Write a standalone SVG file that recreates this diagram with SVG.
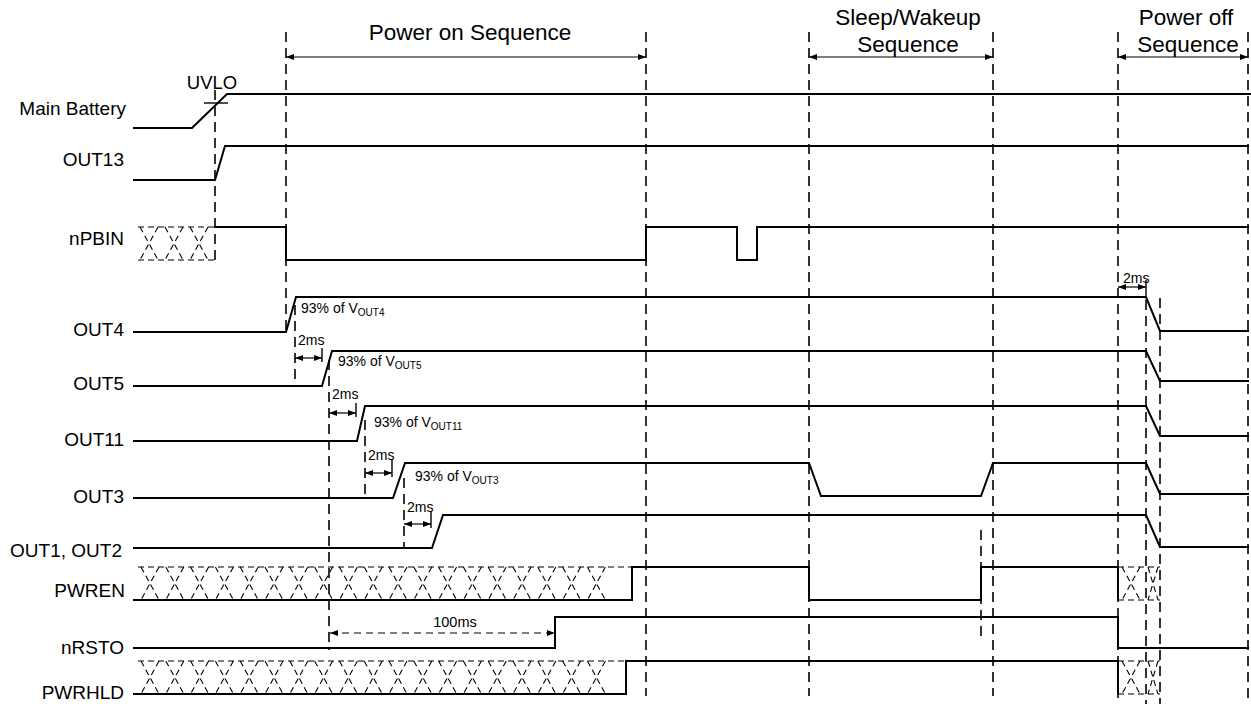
<svg xmlns="http://www.w3.org/2000/svg" width="1251" height="704" viewBox="0 0 1251 704">
<style>
text{font-family:"Liberation Sans",Arial,Helvetica,sans-serif;fill:#000}
.lbl{font-size:19px;text-anchor:end}
.hdr{font-size:22.5px;text-anchor:middle}
.sm{font-size:14px}
.sub{font-size:10px}
.sig{fill:none;stroke:#000;stroke-width:2}
.guide{fill:none;stroke:#000;stroke-width:1.6;stroke-dasharray:10 6}
.tick{fill:none;stroke:#000;stroke-width:1.4}
.dim{fill:none;stroke:#000;stroke-width:1.2;marker-start:url(#ah);marker-end:url(#ah)}
.dimd{fill:none;stroke:#000;stroke-width:1.2;stroke-dasharray:7 5;marker-start:url(#ah);marker-end:url(#ah)}
.hatch{fill:none;stroke:#000;stroke-width:1.1;stroke-dasharray:6 4}
</style>
<defs>
<marker id="ah" viewBox="0 0 8 6" refX="8" refY="3" markerWidth="8" markerHeight="6" markerUnits="userSpaceOnUse" orient="auto-start-reverse">
<path d="M0,0 L8,3 L0,6 z" fill="#000"/>
</marker>
</defs>
<rect width="1251" height="704" fill="#fff"/>

<g id="headers">
<text class="hdr" x="470" y="40">Power on Sequence</text>
<text class="hdr" x="908" y="25">Sleep/Wakeup</text>
<text class="hdr" x="908" y="52">Sequence</text>
<text class="hdr" x="1186" y="25">Power off</text>
<text class="hdr" x="1188" y="52">Sequence</text>
</g>

<g id="connectors">
<path class="guide" d="M215,90 V262"/>
<path class="guide" d="M286,32 V333"/>
<path class="guide" d="M295,305 V386"/>
<path class="guide" d="M329,360 V650"/>
<path class="guide" d="M365,420 V500"/>
<path class="guide" d="M404,478 V548"/>
<path class="guide" d="M646,32 V696"/>
<path class="guide" d="M809,32 V696"/>
<path class="guide" d="M981,530 V636"/>
<path class="guide" d="M993,32 V696"/>
<path class="guide" d="M1118,32 V704"/>
<path class="guide" d="M1146,300 V704"/>
<path class="guide" d="M1160,298 V704"/>
<path class="guide" d="M1248,32 V704"/>
<path class="tick" d="M322,348 V362 M356,403 V417 M392,460 V477 M431,512 V528 M1146,280 V297"/>
<path class="dim" d="M286,57 H646"/>
<path class="dim" d="M809,57 H993"/>
<path class="dim" d="M1118,57 H1248"/>
<path class="dim" d="M295,358 H322"/>
<path class="dim" d="M329,413 H356"/>
<path class="dim" d="M365,473 H392"/>
<path class="dim" d="M404,524 H431"/>
<path class="dim" d="M1118,287 H1146"/>
<path class="dimd" d="M330,633 H555"/>
<text class="sm" x="298" y="345">2ms</text>
<text class="sm" x="332" y="399">2ms</text>
<text class="sm" x="368" y="460">2ms</text>
<text class="sm" x="407" y="512">2ms</text>
<text class="sm" x="1123" y="283">2ms</text>
<text class="sm" x="455" y="627" text-anchor="middle" style="font-size:14.5px">100ms</text>
</g>

<g id="main-battery">
<text class="lbl" x="126" y="115">Main Battery</text>
<path class="sig" d="M133,128 H192 L227,94 H1251"/>
<path class="tick" d="M204,103 H228"/>
<text x="212" y="89" style="font-size:18.5px" text-anchor="middle">UVLO</text>
</g>

<g id="out13">
<text class="lbl" x="124" y="166">OUT13</text>
<path class="sig" d="M133,180 H215 L225,146 H1249"/>
</g>

<g id="npbin">
<text class="lbl" x="124" y="245">nPBIN</text>
<path class="hatch" d="M138,227 H215 M138,260 H215"/>
<path class="hatch" d="M140,227 l18,33 m0,-33 l-18,33 m25,-33 l18,33 m0,-33 l-18,33 m25,-33 l18,33 m0,-33 l-18,33"/>
<path class="sig" d="M215,227 H286 V260 H646 V227 H737 V260 H757 V227 H1249"/>
</g>

<g id="out4">
<text class="lbl" x="124" y="336">OUT4</text>
<path class="sig" d="M133,332 H286 L296,297 H1146 L1160,331 H1249"/>
<text class="sm" x="301" y="313">93% of V<tspan class="sub" dy="3">OUT4</tspan></text>
</g>

<g id="out5">
<text class="lbl" x="124" y="390">OUT5</text>
<path class="sig" d="M133,386 H322 L332,351 H1146 L1160,381 H1249"/>
<text class="sm" x="338" y="366">93% of V<tspan class="sub" dy="3">OUT5</tspan></text>
</g>

<g id="out11">
<text class="lbl" x="124" y="446">OUT11</text>
<path class="sig" d="M133,441 H357 L365,406 H1146 L1160,436 H1249"/>
<text class="sm" x="374" y="427">93% of V<tspan class="sub" dy="3">OUT11</tspan></text>
</g>

<g id="out3">
<text class="lbl" x="124" y="503">OUT3</text>
<path class="sig" d="M133,498 H393 L405,463 H809 L821,496 H981 L993,463 H1146 L1160,494 H1249"/>
<text class="sm" x="415" y="481">93% of V<tspan class="sub" dy="3">OUT3</tspan></text>
</g>

<g id="out1-out2">
<text class="lbl" x="122" y="557">OUT1, OUT2</text>
<path class="sig" d="M133,548 H432 L443,515 H1146 L1160,547 H1249"/>
</g>

<g id="pwren">
<text class="lbl" x="125" y="597">PWREN</text>
<path class="hatch" d="M138,567 H632"/>
<path class="hatch" d="M141,567 l18,33 m0,-33 l-18,33 m24.8,-33 l18,33 m0,-33 l-18,33 m24.8,-33 l18,33 m0,-33 l-18,33 m24.8,-33 l18,33 m0,-33 l-18,33 m24.8,-33 l18,33 m0,-33 l-18,33 m24.8,-33 l18,33 m0,-33 l-18,33 m24.8,-33 l18,33 m0,-33 l-18,33 m24.8,-33 l18,33 m0,-33 l-18,33 m24.8,-33 l18,33 m0,-33 l-18,33 m24.8,-33 l18,33 m0,-33 l-18,33 m24.8,-33 l18,33 m0,-33 l-18,33 m24.8,-33 l18,33 m0,-33 l-18,33 m24.8,-33 l18,33 m0,-33 l-18,33 m24.8,-33 l18,33 m0,-33 l-18,33 m24.8,-33 l18,33 m0,-33 l-18,33 m24.8,-33 l18,33 m0,-33 l-18,33 m24.8,-33 l18,33 m0,-33 l-18,33 m24.8,-33 l18,33 m0,-33 l-18,33 m24.8,-33 l18,33 m0,-33 l-18,33"/>
<path class="sig" d="M133,600 H632 V567 H809 V600 H981 V567 H1118 V600"/>
<path class="hatch" d="M1118,567 H1160 M1118,600 H1160"/>
<path class="hatch" d="M1122,567 l18,33 m0,-33 l-18,33 M1148,567 l10,33 m0,-33 l-10,33"/>
</g>

<g id="nrsto">
<text class="lbl" x="124" y="654">nRSTO</text>
<path class="sig" d="M133,648 H555 V617 H1118 V648 H1249"/>
</g>

<g id="pwrhld">
<text class="lbl" x="124" y="699">PWRHLD</text>
<path class="hatch" d="M138,661 H626"/>
<path class="hatch" d="M141,661 l18,33 m0,-33 l-18,33 m24.8,-33 l18,33 m0,-33 l-18,33 m24.8,-33 l18,33 m0,-33 l-18,33 m24.8,-33 l18,33 m0,-33 l-18,33 m24.8,-33 l18,33 m0,-33 l-18,33 m24.8,-33 l18,33 m0,-33 l-18,33 m24.8,-33 l18,33 m0,-33 l-18,33 m24.8,-33 l18,33 m0,-33 l-18,33 m24.8,-33 l18,33 m0,-33 l-18,33 m24.8,-33 l18,33 m0,-33 l-18,33 m24.8,-33 l18,33 m0,-33 l-18,33 m24.8,-33 l18,33 m0,-33 l-18,33 m24.8,-33 l18,33 m0,-33 l-18,33 m24.8,-33 l18,33 m0,-33 l-18,33 m24.8,-33 l18,33 m0,-33 l-18,33 m24.8,-33 l18,33 m0,-33 l-18,33 m24.8,-33 l18,33 m0,-33 l-18,33 m24.8,-33 l18,33 m0,-33 l-18,33 m24.8,-33 l18,33 m0,-33 l-18,33"/>
<path class="sig" d="M133,694 H626 V661 H1118 V694"/>
<path class="hatch" d="M1118,661 H1160 M1118,694 H1160"/>
<path class="hatch" d="M1122,661 l18,33 m0,-33 l-18,33 M1148,661 l10,33 m0,-33 l-10,33"/>
</g>
</svg>
